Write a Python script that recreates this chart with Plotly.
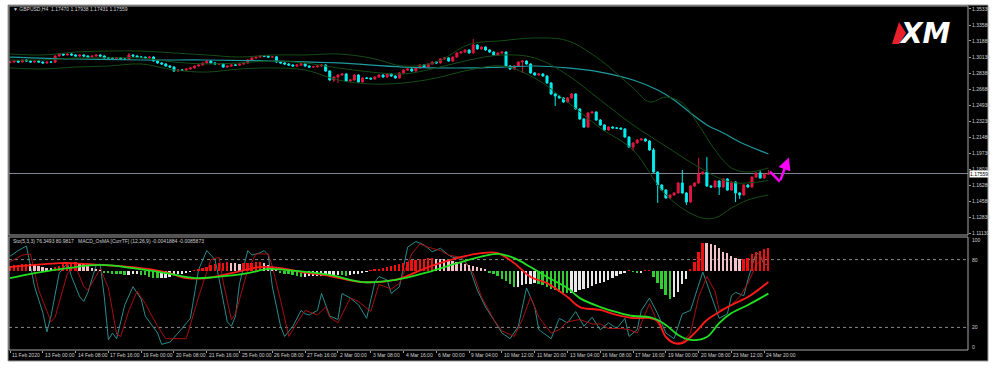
import plotly.graph_objects as go

# ---------------- DATA ----------------
time_labels = ["11 Feb 2020", "13 Feb 00:00", "14 Feb 08:00", "17 Feb 16:00", "19 Feb 00:00",
               "20 Feb 08:00", "21 Feb 16:00", "25 Feb 00:00", "26 Feb 08:00", "27 Feb 16:00",
               "2 Mar 00:00", "3 Mar 08:00", "4 Mar 16:00", "6 Mar 00:00", "9 Mar 04:00",
               "10 Mar 12:00", "11 Mar 20:00", "13 Mar 04:00", "16 Mar 08:00", "17 Mar 16:00",
               "19 Mar 00:00", "20 Mar 08:00", "23 Mar 12:00", "24 Mar 20:00"]
bars_per_label = 8

price_ticks = ["1.35330", "1.33580", "1.31880", "1.30130", "1.28380", "1.26680", "1.24930",
               "1.23230", "1.21480", "1.19730", "1.18030", "1.16280", "1.14580", "1.12830", "1.11130"]
osc_levels = [100, 80, 20, 0]

opens = [
    1.2955, 1.2960, 1.2971, 1.2960, 1.2982, 1.2971, 1.2960, 1.2971, 1.2960, 1.2950,
    1.2960, 1.2958, 1.3025, 1.3047, 1.3036, 1.3047, 1.3036, 1.3025, 1.3036, 1.3025,
    1.3014, 1.3025, 1.3036, 1.3025, 1.3004, 1.3002, 1.2993, 1.3004, 1.2993, 1.2990,
    1.3036, 1.3025, 1.3014, 1.3012, 1.3004, 1.3014, 1.2971, 1.2950, 1.2939, 1.2917,
    1.2906, 1.2863, 1.2874, 1.2872, 1.2885, 1.2896, 1.2917, 1.2928, 1.2950, 1.2971,
    1.2950, 1.2939, 1.2941, 1.2906, 1.2917, 1.2928, 1.2926, 1.2939, 1.2950, 1.2982,
    1.3004, 1.3014, 1.3025, 1.3023, 1.3014, 1.3016, 1.2960, 1.2950, 1.2939, 1.2928,
    1.2917, 1.2928, 1.2939, 1.2917, 1.2906, 1.2908, 1.2917, 1.2928, 1.2863, 1.2766,
    1.2798, 1.2820, 1.2831, 1.2755, 1.2766, 1.2820, 1.2744, 1.2788, 1.2785, 1.2777,
    1.2798, 1.2820, 1.2798, 1.2831, 1.2809, 1.2788, 1.2842, 1.2874, 1.2885, 1.2863,
    1.2896, 1.2928, 1.2906, 1.2939, 1.2960, 1.2950, 1.2993, 1.3004, 1.2971, 1.3014,
    1.3058, 1.3068, 1.3090, 1.3058, 1.3144, 1.3101, 1.3122, 1.3090, 1.3068, 1.3036,
    1.3058, 1.3068, 1.2917, 1.2885, 1.2917, 1.2960, 1.2971, 1.2939, 1.2842, 1.2820,
    1.2831, 1.2809, 1.2734, 1.2615, 1.2593, 1.2572, 1.2528, 1.2572, 1.2615, 1.2453,
    1.2345, 1.2258, 1.2410, 1.2420, 1.2334, 1.2280, 1.2226, 1.2258, 1.2248, 1.2246,
    1.2237, 1.2150, 1.2042, 1.2086, 1.2118, 1.2129, 1.2107, 1.2010, 1.1772, 1.1632,
    1.1578, 1.1492, 1.1524, 1.1546, 1.1654, 1.1546, 1.1448, 1.1621, 1.1654, 1.1751,
    1.1772, 1.1621, 1.1610, 1.1675, 1.1610, 1.1697, 1.1578, 1.1664, 1.1546, 1.1524,
    1.1632, 1.1610, 1.1718, 1.1762, 1.1708, 1.1747]

highs = [
    1.2968, 1.2979, 1.2979, 1.2990, 1.2990, 1.2979, 1.2979, 1.2979, 1.2968, 1.2968,
    1.2966, 1.3033, 1.3055, 1.3055, 1.3055, 1.3055, 1.3044, 1.3044, 1.3044, 1.3033,
    1.3033, 1.3044, 1.3044, 1.3033, 1.3012, 1.3010, 1.3012, 1.3012, 1.3001, 1.3058,
    1.3044, 1.3033, 1.3022, 1.3020, 1.3022, 1.3022, 1.2979, 1.2958, 1.2947, 1.2925,
    1.2914, 1.2882, 1.2882, 1.2893, 1.2904, 1.2925, 1.2936, 1.2958, 1.2979, 1.2979,
    1.2958, 1.2949, 1.2949, 1.2925, 1.2936, 1.2936, 1.2947, 1.2958, 1.2990, 1.3012,
    1.3022, 1.3033, 1.3033, 1.3031, 1.3024, 1.3024, 1.2968, 1.2958, 1.2947, 1.2936,
    1.2936, 1.2947, 1.2947, 1.2925, 1.2916, 1.2925, 1.2936, 1.2936, 1.2871, 1.2806,
    1.2828, 1.2839, 1.2839, 1.2774, 1.2828, 1.2828, 1.2796, 1.2796, 1.2793, 1.2806,
    1.2828, 1.2828, 1.2839, 1.2839, 1.2817, 1.2850, 1.2882, 1.2893, 1.2893, 1.2904,
    1.2936, 1.2936, 1.2947, 1.2968, 1.2968, 1.3001, 1.3012, 1.3012, 1.3022, 1.3066,
    1.3076, 1.3098, 1.3098, 1.3209, 1.3152, 1.3130, 1.3130, 1.3098, 1.3076, 1.3066,
    1.3076, 1.3076, 1.2925, 1.2925, 1.2968, 1.2979, 1.2979, 1.2947, 1.2850, 1.2839,
    1.2839, 1.2817, 1.2742, 1.2623, 1.2601, 1.2580, 1.2580, 1.2626, 1.2623, 1.2461,
    1.2353, 1.2418, 1.2428, 1.2428, 1.2342, 1.2288, 1.2266, 1.2266, 1.2256, 1.2254,
    1.2245, 1.2158, 1.2094, 1.2126, 1.2137, 1.2137, 1.2115, 1.2032, 1.1780, 1.1640,
    1.1586, 1.1532, 1.1554, 1.1662, 1.1794, 1.1554, 1.1629, 1.1662, 1.1924, 1.1780,
    1.1934, 1.1629, 1.1683, 1.1683, 1.1705, 1.1705, 1.1672, 1.1672, 1.1554, 1.1640,
    1.1640, 1.1726, 1.1770, 1.1794, 1.1755, 1.17938]

lows = [
    1.2947, 1.2952, 1.2952, 1.2952, 1.2963, 1.2952, 1.2952, 1.2952, 1.2942, 1.2942,
    1.2950, 1.2950, 1.3017, 1.3028, 1.3028, 1.3028, 1.3017, 1.3017, 1.3017, 1.3006,
    1.3006, 1.3017, 1.3017, 1.2996, 1.2994, 1.2985, 1.2985, 1.2985, 1.2982, 1.2982,
    1.3017, 1.3006, 1.3004, 1.2996, 1.2996, 1.2963, 1.2942, 1.2931, 1.2909, 1.2898,
    1.2855, 1.2855, 1.2864, 1.2864, 1.2877, 1.2888, 1.2909, 1.2920, 1.2942, 1.2942,
    1.2931, 1.2931, 1.2898, 1.2898, 1.2909, 1.2918, 1.2918, 1.2931, 1.2942, 1.2974,
    1.2996, 1.3006, 1.3015, 1.3006, 1.3006, 1.2952, 1.2942, 1.2931, 1.2920, 1.2909,
    1.2909, 1.2920, 1.2909, 1.2898, 1.2898, 1.2900, 1.2909, 1.2855, 1.2758, 1.2745,
    1.2734, 1.2812, 1.2747, 1.2745, 1.2758, 1.2736, 1.2736, 1.2777, 1.2769, 1.2769,
    1.2790, 1.2790, 1.2790, 1.2801, 1.2780, 1.2780, 1.2834, 1.2866, 1.2855, 1.2855,
    1.2888, 1.2898, 1.2898, 1.2931, 1.2942, 1.2942, 1.2985, 1.2963, 1.2963, 1.3006,
    1.3050, 1.3060, 1.3050, 1.3050, 1.3093, 1.3093, 1.3082, 1.3060, 1.3028, 1.3028,
    1.3050, 1.2909, 1.2877, 1.2877, 1.2909, 1.2842, 1.2931, 1.2834, 1.2812, 1.2812,
    1.2801, 1.2726, 1.2607, 1.2485, 1.2564, 1.2520, 1.2520, 1.2564, 1.2445, 1.2337,
    1.2250, 1.2250, 1.2402, 1.2326, 1.2272, 1.2218, 1.2218, 1.2240, 1.2238, 1.2229,
    1.2142, 1.2034, 1.2000, 1.2078, 1.2110, 1.2099, 1.2002, 1.1764, 1.1438, 1.1570,
    1.1484, 1.1484, 1.1516, 1.1538, 1.1538, 1.1416, 1.1440, 1.1613, 1.1646, 1.1743,
    1.1613, 1.1602, 1.1602, 1.1524, 1.1602, 1.1570, 1.1570, 1.1448, 1.1481, 1.1516,
    1.1602, 1.1602, 1.1710, 1.1700, 1.1700, 1.17431]

closes = [
    1.2960, 1.2971, 1.2960, 1.2982, 1.2971, 1.2960, 1.2971, 1.2960, 1.2950, 1.2960,
    1.2958, 1.3025, 1.3047, 1.3036, 1.3047, 1.3036, 1.3025, 1.3036, 1.3025, 1.3014,
    1.3025, 1.3036, 1.3025, 1.3004, 1.3002, 1.2993, 1.3004, 1.2993, 1.2990, 1.3036,
    1.3025, 1.3014, 1.3012, 1.3004, 1.3014, 1.2971, 1.2950, 1.2939, 1.2917, 1.2906,
    1.2863, 1.2874, 1.2872, 1.2885, 1.2896, 1.2917, 1.2928, 1.2950, 1.2971, 1.2950,
    1.2939, 1.2941, 1.2906, 1.2917, 1.2928, 1.2926, 1.2939, 1.2950, 1.2982, 1.3004,
    1.3014, 1.3025, 1.3023, 1.3014, 1.3016, 1.2960, 1.2950, 1.2939, 1.2928, 1.2917,
    1.2928, 1.2939, 1.2917, 1.2906, 1.2908, 1.2917, 1.2928, 1.2863, 1.2766, 1.2798,
    1.2820, 1.2831, 1.2755, 1.2766, 1.2820, 1.2744, 1.2788, 1.2785, 1.2777, 1.2798,
    1.2820, 1.2798, 1.2831, 1.2809, 1.2788, 1.2842, 1.2874, 1.2885, 1.2863, 1.2896,
    1.2928, 1.2906, 1.2939, 1.2960, 1.2950, 1.2993, 1.3004, 1.2971, 1.3014, 1.3058,
    1.3068, 1.3090, 1.3058, 1.3144, 1.3101, 1.3122, 1.3090, 1.3068, 1.3036, 1.3058,
    1.3068, 1.2917, 1.2885, 1.2917, 1.2960, 1.2971, 1.2939, 1.2842, 1.2820, 1.2831,
    1.2809, 1.2734, 1.2615, 1.2593, 1.2572, 1.2528, 1.2572, 1.2615, 1.2453, 1.2345,
    1.2258, 1.2410, 1.2420, 1.2334, 1.2280, 1.2226, 1.2258, 1.2248, 1.2246, 1.2237,
    1.2150, 1.2042, 1.2086, 1.2118, 1.2129, 1.2107, 1.2010, 1.1772, 1.1632, 1.1578,
    1.1492, 1.1524, 1.1546, 1.1654, 1.1546, 1.1448, 1.1621, 1.1654, 1.1751, 1.1772,
    1.1621, 1.1610, 1.1675, 1.1610, 1.1697, 1.1578, 1.1664, 1.1546, 1.1524, 1.1632,
    1.1610, 1.1718, 1.1762, 1.1708, 1.1747, 1.17559]

bb_up_idx = [0, 8, 16, 24, 32, 40, 48, 56, 64, 72, 80, 88, 96, 104, 112, 120, 128, 136, 144, 152,
             156, 160, 164, 168, 172, 176, 180, 185]
bb_up = [1.3047, 1.3036, 1.3068, 1.3079, 1.3079, 1.3058, 1.3036, 1.3014, 1.3036, 1.3036, 1.3047,
         1.3004, 1.2917, 1.2960, 1.3150, 1.3190, 1.3220, 1.3190, 1.2982, 1.2680, 1.2528, 1.2582,
         1.2518, 1.2280, 1.2010, 1.1816, 1.1772, 1.1816]
bb_mid_idx = [0, 8, 16, 24, 32, 40, 48, 56, 64, 72, 80, 88, 96, 104, 112, 120, 128, 136, 144, 152,
              160, 168, 176, 185]
bb_mid = [1.2982, 1.2982, 1.3004, 1.3004, 1.3004, 1.2960, 1.2939, 1.2950, 1.2971, 1.2950, 1.2896,
          1.2852, 1.2831, 1.2896, 1.2982, 1.3036, 1.3004, 1.2820, 1.2550, 1.2280, 1.2050, 1.1826,
          1.1660, 1.1680]
bb_low_idx = [0, 8, 16, 24, 32, 40, 48, 56, 64, 72, 80, 88, 96, 104, 112, 120, 128, 136, 144, 152,
              160, 168, 172, 176, 180, 185]
bb_low = [1.2896, 1.2885, 1.2906, 1.2917, 1.2939, 1.2874, 1.2852, 1.2885, 1.2896, 1.2874, 1.2766,
          1.2723, 1.2734, 1.2788, 1.2874, 1.2917, 1.2788, 1.2528, 1.2248, 1.2010, 1.1524, 1.1286,
          1.1276, 1.1384, 1.1470, 1.1524]
# slow moving average (teal)
ma_idx = [0, 16, 32, 48, 64, 80, 96, 112, 120, 128, 136, 144, 152, 158, 162, 166, 170, 174, 178, 185]
ma_vals = [1.3014, 1.2993, 1.2982, 1.2982, 1.2971, 1.2950, 1.2906, 1.2896, 1.2906, 1.2917, 1.2896,
           1.2852, 1.2766, 1.2658, 1.2550, 1.2410, 1.2280, 1.2194, 1.2096, 1.1967]
# projected path (magenta arrow)
proj_x = [185.4, 187.8, 190.0]
proj_y = [1.1776, 1.1668, 1.1930]

# Stochastic (5,3,3)
k_idx = [0, 2, 4, 6, 8, 9, 10, 12, 14, 15, 17, 18, 19, 21, 22, 23, 24, 25, 26, 28, 30, 32, 33, 36, 37,
         39, 41, 44, 46, 48, 50, 51, 53, 54, 55, 56, 58, 59, 61, 62, 63, 64, 66, 67, 69, 71, 72, 73,
         75, 76, 78, 80, 81, 83, 85, 87, 89, 90, 92, 93, 95, 97, 99, 101, 103, 105, 107, 108, 110,
         112, 114, 116, 119, 120, 122, 124, 126, 128, 129, 132, 134, 136, 138, 140, 142, 144, 146,
         148, 150, 151, 153, 154, 156, 158, 160, 162, 163, 164, 166, 168, 169, 170, 172, 173, 175,
         176, 177, 179, 180, 182, 183, 184, 185]
stoch_k = [83, 88, 92, 56, 33, 16, 30, 68, 77, 65, 47, 43, 51, 75, 76, 47, 9, 15, 10, 40, 56, 45, 30,
           15, 5, 7, 15, 28, 71, 88, 80, 63, 25, 21, 30, 59, 88, 84, 86, 88, 84, 56, 21, 12, 21, 35,
           32, 31, 35, 50, 30, 27, 50, 46, 40, 28, 60, 65, 62, 50, 56, 91, 96, 93, 87, 90, 84, 82,
           82, 74, 53, 38, 21, 15, 10, 21, 55, 38, 18, 10, 28, 24, 34, 21, 29, 18, 24, 19, 28, 12,
           18, 35, 46, 32, 15, 10, 21, 32, 35, 58, 69, 59, 38, 28, 32, 48, 51, 48, 62, 86, 84, 75, 76]
d_idx = [0, 3, 5, 7, 10, 11, 14, 16, 18, 19, 22, 24, 26, 27, 29, 31, 33, 36, 38, 43, 46, 49, 51, 52,
         54, 55, 58, 60, 63, 64, 66, 68, 70, 72, 75, 77, 78, 80, 83, 85, 88, 90, 93, 95, 98, 100,
         102, 105, 107, 110, 113, 115, 118, 120, 123, 125, 127, 129, 132, 134, 136, 139, 142, 144,
         146, 149, 151, 153, 156, 158, 160, 162, 164, 166, 168, 170, 172, 173, 176, 178, 180, 182,
         184, 185]
stoch_d = [78, 84, 85, 53, 25, 29, 68, 74, 56, 53, 72, 55, 14, 12, 35, 52, 41, 21, 10, 10, 47, 80, 82,
           60, 27, 32, 71, 85, 85, 74, 44, 12, 24, 35, 31, 38, 29, 24, 46, 43, 34, 58, 54, 59, 85,
           94, 91, 88, 84, 82, 68, 47, 27, 17, 12, 27, 47, 29, 15, 18, 25, 27, 23, 23, 19, 19, 18,
           15, 41, 24, 12, 6, 7, 15, 47, 65, 52, 35, 40, 47, 59, 75, 83, 81]

# MACD_OsMA (12,26,9), values in units of 0.0001
macd_idx = [0, 12, 15, 22, 30, 38, 43, 48, 54, 61, 66, 71, 78, 86, 94, 102, 110, 115, 119, 123, 127,
            131, 136, 139, 144, 148, 152, 156, 158, 160, 162, 164, 167, 170, 173, 176, 180, 185]
macd_main = [15, 30, 30, 23, 15, -4, -27, -27, -8, 15, 11, -4, -19, -42, -34, 15, 53, 68, 68, 30,
             -23, -46, -99, -137, -148, -167, -179, -179, -190, -251, -274, -274, -236, -186, -156,
             -129, -99, -42]
signal_idx = [0, 6, 14, 22, 30, 38, 45, 50, 58, 63, 67, 78, 86, 94, 102, 110, 119, 123, 127, 131,
              136, 139, 144, 148, 152, 156, 158, 160, 163, 166, 170, 173, 176, 180, 185]
macd_signal = [-27, -8, 11, 23, 11, -8, -27, -23, -8, 8, 4, -15, -42, -34, -4, 34, 65, 49, 15, -23,
               -65, -103, -137, -156, -171, -175, -186, -205, -243, -262, -251, -198, -160, -129, -86]
osma = [
    19, 21, 23, 25, 27, 25, 23, 19, 15, 13,
    11, 15, 19, 25, 29, 32, 34, 30, 25, 19,
    13, 8, 3, -4, -7, -10, -11, -13, -15, -14,
    -13, -13, -15, -17, -21, -25, -27, -26, -25, -21,
    -17, -13, -10, -6, -3, 2, 6, 11, 17, 23,
    27, 30, 32, 34, 32, 29, 27, 29, 30, 32,
    34, 35, 30, 23, 15, 6, -4, -10, -13, -17,
    -20, -22, -21, -20, -19, -19, -18, -17, -17, -16,
    -15, -17, -19, -17, -13, -10, -6, -2, 2, 4,
    8, 11, 15, 19, 23, 27, 30, 36, 40, 42,
    44, 46, 48, 49, 47, 46, 44, 42, 38, 34,
    30, 27, 23, 19, 15, 10, 4, -4, -11, -19,
    -29, -38, -49, -61, -59, -53, -49, -48, -46, -49,
    -55, -61, -68, -74, -78, -82, -85, -82, -78, -74,
    -68, -63, -57, -51, -46, -40, -34, -27, -19, -11,
    -4, 1, -2, -6, -4, 2, 3, -22, -46, -68,
    -91, -106, -99, -80, -49, -30, 6, 35, 72, 106,
    105, 103, 98, 87, 73, 67, 57, 48, 44, 46,
    48, 65, 72, 77, 82, 86]

header_main = "\u25bc GBPUSD,H4  1.17470 1.17938 1.17431 1.17559"
header_osc = "Sto(5,3,3) 76.3493 80.9817   MACD_OsMA [CurrTF] (12,26,9) -0.0041884 -0.0085873"

# ---------------- LAYOUT HELPERS ----------------
W, H = 1000, 372
def fx(p):
    return p / W
def fy(p):
    return 1 - p / H

n = len(closes)
bars = list(range(n))
x_range = [-0.25, 233.7]
FONT = "Liberation Sans, Arial, sans-serif"
TXT = "#d0d0d0"

# histogram colours from direction of change
hist_colors = []
for i, v in enumerate(osma):
    prev = osma[i - 1] if i > 0 else 0
    if v >= 0:
        hist_colors.append("#ee1111" if v >= prev else "#f3c2c8")
    else:
        hist_colors.append("#33cc33" if v < prev else "#e8e8e8")

fig = go.Figure()

# ---- main price panel ----
fig.add_trace(go.Scatter(x=ma_idx, y=ma_vals, mode="lines", line=dict(color="#1f9a9f", width=1.2, shape="spline"),
                         xaxis="x", yaxis="y", hoverinfo="skip"))
for idx, vals in ((bb_up_idx, bb_up), (bb_mid_idx, bb_mid), (bb_low_idx, bb_low)):
    fig.add_trace(go.Scatter(x=idx, y=vals, mode="lines", line=dict(color="#154d15", width=1, shape="spline"),
                             xaxis="x", yaxis="y", hoverinfo="skip"))
fig.add_trace(go.Candlestick(x=bars, open=opens, high=highs, low=lows, close=closes,
                             increasing=dict(line=dict(color="#e0163f", width=1), fillcolor="#e0163f"),
                             decreasing=dict(line=dict(color="#00eeee", width=1), fillcolor="#00eeee"),
                             whiskerwidth=0, xaxis="x", yaxis="y", hoverinfo="skip"))
fig.add_trace(go.Scatter(x=proj_x[:2], y=proj_y[:2], mode="lines", line=dict(color="#ff00ff", width=2.5),
                         xaxis="x", yaxis="y", hoverinfo="skip"))

# ---- oscillator panel ----
fig.add_trace(go.Scatter(x=k_idx, y=stoch_k, mode="lines", line=dict(color="#2a8c8c", width=1),
                         xaxis="x2", yaxis="y2", hoverinfo="skip"))
fig.add_trace(go.Scatter(x=d_idx, y=stoch_d, mode="lines", line=dict(color="#a81010", width=1),
                         xaxis="x2", yaxis="y2", hoverinfo="skip"))
fig.add_trace(go.Bar(x=bars, y=osma, marker=dict(color=hist_colors, line=dict(width=0)), width=0.45,
                     xaxis="x2", yaxis="y3", hoverinfo="skip"))
fig.add_trace(go.Scatter(x=macd_idx, y=macd_main, mode="lines", line=dict(color="#ff1a1a", width=1.8, shape="spline"),
                         xaxis="x2", yaxis="y3", hoverinfo="skip"))
fig.add_trace(go.Scatter(x=signal_idx, y=macd_signal, mode="lines", line=dict(color="#22e022", width=1.8, shape="spline"),
                         xaxis="x2", yaxis="y3", hoverinfo="skip"))

shapes = [
    dict(type="rect", xref="paper", yref="paper", x0=fx(8), x1=fx(988), y0=fy(361), y1=fy(5),
         fillcolor="black", line=dict(color="#9a9a9a", width=1), layer="below"),
    dict(type="rect", xref="paper", yref="paper", x0=fx(9), x1=fx(968), y0=fy(235), y1=fy(6),
         line=dict(color="#a8a8a8", width=1), layer="above"),
    dict(type="rect", xref="paper", yref="paper", x0=fx(9), x1=fx(968), y0=fy(350), y1=fy(237),
         line=dict(color="#a8a8a8", width=1), layer="above"),
    dict(type="line", xref="x domain", yref="y", x0=0, x1=1, y0=closes[-1], y1=closes[-1],
         line=dict(color="#7c8894", width=1), layer="below"),
    # XM logo red wedge
    dict(type="path", xref="paper", yref="paper",
         path=f"M {fx(892)},{fy(44)} L {fx(899)},{fy(44)} L {fx(906)},{fy(33)} L {fx(899)},{fy(22)} Z",
         fillcolor="#e8202a", line=dict(width=0), layer="above"),
]
for lv in osc_levels[1:3]:
    shapes.append(dict(type="line", xref="x2 domain", yref="y2", x0=0, x1=1, y0=lv, y1=lv,
                       line=dict(color="#8a8a8a", width=1, dash="dot"), layer="below"))

annotations = [
    dict(text=header_main, x=fx(11), y=fy(9.5), xref="paper", yref="paper", xanchor="left", yanchor="middle",
         showarrow=False, font=dict(family=FONT, size=5, color=TXT)),
    dict(text=header_osc, x=fx(11), y=fy(241), xref="paper", yref="paper", xanchor="left", yanchor="middle",
         showarrow=False, font=dict(family=FONT, size=5, color=TXT)),
    dict(text=f"{closes[-1]:.5f}", x=fx(969), y=closes[-1], xref="paper", yref="y", xanchor="left",
         yanchor="middle", showarrow=False, bgcolor="white", borderpad=0,
         font=dict(family=FONT, size=5, color="black")),
    dict(text="<b><i>XM</i></b>", x=fx(925), y=fy(33), xref="paper", yref="paper", xanchor="center",
         yanchor="middle", showarrow=False, font=dict(family="DejaVu Sans", size=28, color="white")),
    dict(x=proj_x[2], y=proj_y[2], ax=proj_x[1], ay=proj_y[1], xref="x", yref="y", axref="x", ayref="y",
         text="", showarrow=True, arrowhead=2, arrowsize=1, arrowwidth=2.5, arrowcolor="#ff00ff"),
]
for lv in osc_levels:
    shift = -3 if lv == 100 else (3 if lv == 0 else 0)
    annotations.append(dict(text=str(lv), x=fx(970), y=lv, xref="paper", yref="y2", xanchor="left",
                            yanchor="middle", yshift=shift, showarrow=False,
                            font=dict(family=FONT, size=5, color=TXT)))
for k, lab in enumerate(time_labels):
    annotations.append(dict(text=lab, x=k * bars_per_label, y=fy(354.5), xref="x2", yref="paper",
                            xanchor="left", yanchor="middle", xshift=0, showarrow=False,
                            font=dict(family=FONT, size=5, color=TXT)))

fig.update_layout(
    width=W, height=H, margin=dict(l=0, r=0, t=0, b=0),
    paper_bgcolor="white", plot_bgcolor="black", showlegend=False, bargap=0,
    shapes=shapes, annotations=annotations,
    xaxis=dict(domain=[fx(9), fx(968)], range=x_range, anchor="y", showgrid=False, zeroline=False,
               showticklabels=False, rangeslider=dict(visible=False), fixedrange=True),
    yaxis=dict(domain=[fy(235), fy(6)], range=[1.3630 - 0.00108 * 235, 1.3630 - 0.00108 * 6],
               side="right", anchor="x", tickvals=[float(t) for t in price_ticks], ticktext=price_ticks,
               ticks="outside", ticklen=2, tickcolor="#a0a0a0", showgrid=False, zeroline=False,
               tickfont=dict(family=FONT, size=5, color=TXT)),
    xaxis2=dict(domain=[fx(9), fx(968)], range=x_range, anchor="y2", matches="x", showgrid=False,
                zeroline=False, showticklabels=False, ticks="outside", ticklen=2, tickcolor="#a0a0a0",
                tickvals=[k * bars_per_label for k in range(len(time_labels))]),
    yaxis2=dict(domain=[fy(350), fy(237)], range=[0, 100], anchor="x2", showgrid=False, zeroline=False,
                showticklabels=False),
    yaxis3=dict(overlaying="y2", range=[(271 - 350) * 3.8, (271 - 237) * 3.8], visible=False,
                showgrid=False, zeroline=False),
)

fig.write_html("out.html", config={"displayModeBar": False},
               post_script="document.body.style.margin='0';document.body.style.padding='0';")
